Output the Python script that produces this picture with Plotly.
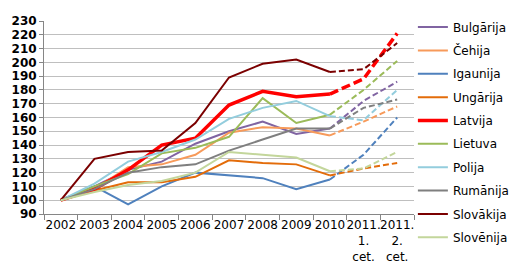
import plotly.graph_objects as go

categories = ["2002", "2003", "2004", "2005", "2006", "2007", "2008", "2009", "2010",
              "2011.<br>1.<br>cet.", "2011.<br>2.<br>cet."]

countries = ["Bulgārija", "Čehija", "Igaunija", "Ungārija", "Latvija",
             "Lietuva", "Polija", "Rumānija", "Slovākija", "Slovēnija"]

bulgarija = [100, 110, 122, 128, 141, 150, 157, 148, 152, 172, 186]
cehija    = [100, 108, 124, 126, 133, 149, 153, 152, 147, 157, 168]
igaunija  = [100, 110, 97, 110, 120, 118, 116, 108, 115, 133, 160]
ungarija  = [100, 107, 113, 113, 117, 129, 127, 126, 118, 123, 127]
latvija   = [100, 108, 122, 140, 145, 169, 179, 175, 177, 188, 221]
lietuva   = [100, 110, 119, 134, 138, 146, 174, 156, 162, 180, 201]
polija    = [100, 112, 128, 135, 144, 159, 167, 172, 161, 158, 180]
rumanija  = [100, 108, 120, 124, 126, 136, 144, 152, 152, 167, 173]
slovakija = [100, 130, 135, 136, 156, 189, 199, 202, 193, 195, 214]
slovenija = [100, 106, 111, 114, 120, 135, 133, 131, 121, 123, 135]

series = [bulgarija, cehija, igaunija, ungarija, latvija,
          lietuva, polija, rumanija, slovakija, slovenija]

colors = ["#8064A2", "#F79A5A", "#4F81BD", "#E36C0A", "#FF0000",
          "#9BBB59", "#93CDDD", "#7F7F7F", "#7B0000", "#C3D69B"]

n_solid = 9  # 2002..2010 solid, 2010..2011.2 dashed

fig = go.Figure()
for i, (name, vals, col) in enumerate(zip(countries, series, colors)):
    w = 3.5 if name == "Latvija" else 2
    dash = "9px,4px" if name == "Latvija" else "6px,3px"
    lg = "legend" if i < 5 else "legend2"
    fig.add_trace(go.Scatter(
        x=categories[:n_solid], y=vals[:n_solid], mode="lines", name=name,
        line=dict(color=col, width=w), legendgroup=name, showlegend=True, legend=lg))
    fig.add_trace(go.Scatter(
        x=categories[n_solid - 1:], y=vals[n_solid - 1:], mode="lines", name=name,
        line=dict(color=col, width=w, dash=dash), legendgroup=name, showlegend=False,
        legend=lg))

leg_common = dict(x=0.997, xanchor="left", yanchor="top",
                  traceorder="grouped", tracegroupgap=4.4,
                  font=dict(family="DejaVu Sans", size=12, color="black"),
                  itemwidth=30, bgcolor="rgba(0,0,0,0)")

fig.update_layout(
    width=527, height=276,
    margin=dict(l=39, r=103, t=13, b=60),
    paper_bgcolor="white", plot_bgcolor="white",
    font=dict(family="DejaVu Sans", size=12, color="black"),
    showlegend=True,
    legend=dict(y=1.044, **leg_common),
    legend2=dict(y=0.439, **leg_common),
)
fig.update_xaxes(
    type="category", categoryorder="array", categoryarray=categories,
    range=[-0.5, 10.5], showgrid=False, tickangle=0,
    showline=True, linecolor="#868686", linewidth=1,
    ticks="outside", tickson="boundaries", ticklen=5, tickcolor="#868686",
    tickfont=dict(family="DejaVu Sans", size=12, color="black"),
)
fig.update_yaxes(
    range=[90, 230], dtick=10, tick0=90,
    showgrid=True, gridcolor="#BFBFBF", gridwidth=1,
    showline=True, linecolor="#868686", linewidth=1,
    ticks="outside", ticklen=4, tickcolor="#868686",
    tickfont=dict(family="DejaVu Sans", size=12, color="black", weight="bold"),
    zeroline=False,
)

fig.write_html("out.html")
